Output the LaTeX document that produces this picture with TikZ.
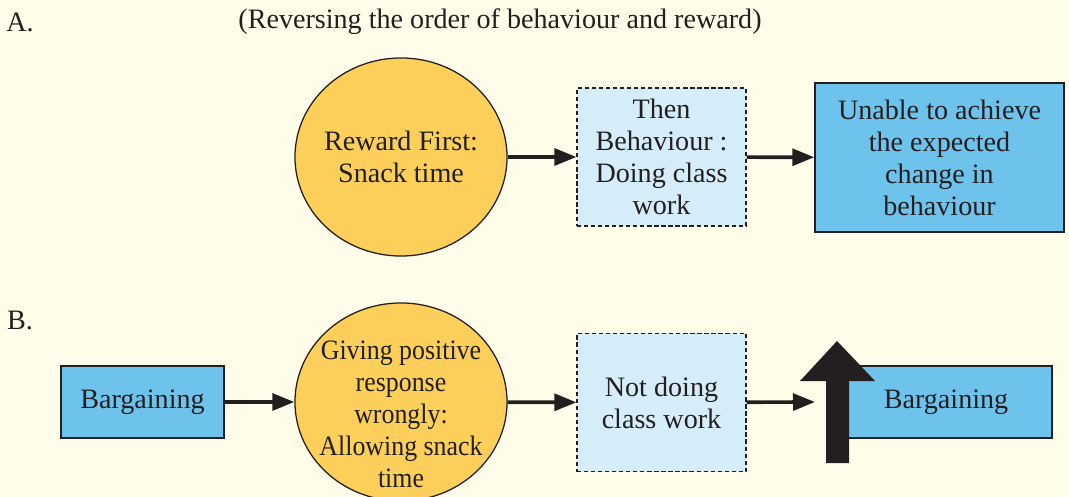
\documentclass[tikz,border=0pt]{standalone}
\usepackage{fontspec}
\setmainfont{Liberation Serif}
\newfontfamily\narrowserif[FakeStretch=0.92]{Liberation Serif}
\usetikzlibrary{shapes.geometric,arrows.meta}
\definecolor{paper}{HTML}{FFFDE9}
\definecolor{snack}{HTML}{FCCF5A}
\definecolor{deepblue}{HTML}{6EC3EC}
\definecolor{paleblue}{HTML}{D5ECF9}
\definecolor{ink}{HTML}{231F20}
\tikzset{
  reward/.style={ellipse,draw=ink,line width=0.9pt,fill=snack,minimum width=5.3cm,
    minimum height=4.95cm,inner sep=-0.4cm,align=center},
  act/.style={rectangle,draw=ink,dash pattern=on 3pt off 2pt,line width=0.8pt,fill=paleblue,
    minimum width=4.225cm,minimum height=3.45cm,inner sep=0pt,align=center},
  result/.style={rectangle,draw=ink,line width=1pt,fill=deepblue,inner sep=0pt,align=center},
  flow/.style={draw=ink,line width=2.6pt,-{Triangle[length=0.55cm,width=0.42cm]}},
}
\begin{document}
\begin{tikzpicture}[x=0.025cm,y=-0.025cm,font=\fontsize{20}{22.8}\selectfont,text=ink]
\fill[paper] (0,0) rectangle (1069,497);
\useasboundingbox (0,0) rectangle (1069,497);
\clip (0,0) rectangle (1069,497);
% part A
\node (labA) at (20,22) {A.};
\node (title) at (500,22) {(Reversing the order of behaviour and reward)};
\node[reward] (first) at (401,157) {Reward First:\\Snack time};
\node[act] (then) at (661.5,157) {Then\\Behaviour :\\Doing class\\work};
\node[result,minimum width=6.225cm,minimum height=3.725cm] (fail) at (939.5,157.5)
  {Unable to achieve\\the expected\\change in\\behaviour};
\draw[flow] (first) -- (then);
\draw[flow] (then) -- (fail);
% part B
\node (labB) at (20,320) {B.};
\node[result,minimum width=4.075cm,minimum height=1.8cm] (ask) at (142.5,402) {Bargaining};
\node[reward] (give) at (401,402) {};
\node[align=center,font=\fontsize{20}{22.8}\narrowserif] (giveText) at ([yshift=-0.3cm]give.center)
  {Giving positive\\response\\wrongly:\\Allowing snack\\time};
\node[act] (skip) at (661.5,402.5) {Not doing\\class work};
\node[result,minimum width=5.3cm,minimum height=1.8cm] (more) at (946,402) {Bargaining};
\coordinate (up) at (815,402);
\fill[ink] (826,463) -- (826,381) -- (800,381) -- (837,341) -- (875,381)
  -- (849,381) -- (849,463) -- cycle;
\draw[flow] (ask) -- (give);
\draw[flow] (give) -- (skip);
\draw[flow] (skip) -- (up);
\end{tikzpicture}
\end{document}
